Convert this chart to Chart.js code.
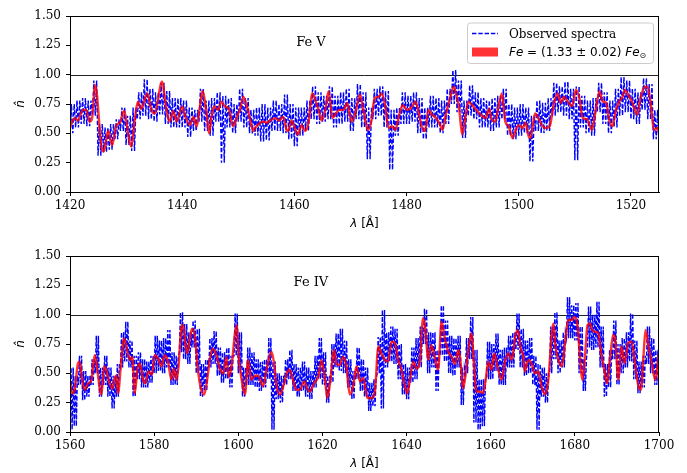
<!DOCTYPE html>
<html>
<head>
<meta charset="utf-8">
<script src="https://cdn.jsdelivr.net/npm/chart.js@4.4.1/dist/chart.umd.min.js"></script>
<style>
  html, body { margin: 0; padding: 0; background: #fff; }
  #wrap { position: relative; width: 687px; height: 473px; }
  canvas { position: absolute; left: 0; }
  #feV { top: 0; }
  #feIV { top: 237px; }
</style>
</head>
<body>
<div id="wrap">
  <canvas id="feV" width="687" height="236"></canvas>
  <canvas id="feIV" width="687" height="236"></canvas>
</div>
<script>
// normalised flux ticks, shared by both panels
const fluxTicks = [0, 0.25, 0.5, 0.75, 1.0, 1.25, 1.5];

// ---- Fe V window (1420-1525 A) ----
const feVTicks = [1420, 1440, 1460, 1480, 1500, 1520];
const feVStart = 1420;
// observed spectrum, [low, high] per 1 A bin from feVStart
const feVObs = [
  [0.50, 0.75], [0.55, 0.78], [0.58, 0.80], [0.56, 0.78], [0.65, 0.95],
  [0.31, 0.58], [0.34, 0.55], [0.36, 0.58], [0.45, 0.62], [0.52, 0.72],
  [0.40, 0.65], [0.35, 0.72], [0.62, 0.85], [0.65, 0.96], [0.62, 0.88],
  [0.60, 0.85], [0.66, 0.93], [0.58, 0.86], [0.55, 0.80], [0.55, 0.80],
  [0.55, 0.78], [0.47, 0.72], [0.52, 0.70], [0.60, 0.88], [0.52, 0.78],
  [0.48, 0.80], [0.60, 0.85], [0.25, 0.82], [0.55, 0.80], [0.50, 0.75],
  [0.60, 0.88], [0.55, 0.80], [0.50, 0.70], [0.48, 0.72], [0.43, 0.75],
  [0.44, 0.72], [0.52, 0.78], [0.52, 0.75], [0.50, 0.83], [0.45, 0.75],
  [0.39, 0.72], [0.48, 0.72], [0.52, 0.78], [0.62, 0.90], [0.58, 0.85],
  [0.60, 0.82], [0.62, 0.90], [0.55, 0.82], [0.58, 0.85], [0.60, 0.88],
  [0.52, 0.80], [0.62, 0.92], [0.55, 0.85], [0.28, 0.72], [0.62, 0.88],
  [0.65, 0.90], [0.55, 0.86], [0.19, 0.70], [0.48, 0.72], [0.58, 0.85],
  [0.58, 0.82], [0.60, 0.85], [0.50, 0.80], [0.45, 0.72], [0.55, 0.82],
  [0.55, 0.80], [0.50, 0.78], [0.58, 0.88], [0.75, 1.04], [0.68, 0.95],
  [0.46, 0.78], [0.65, 0.91], [0.62, 0.85], [0.55, 0.80], [0.55, 0.78],
  [0.52, 0.80], [0.55, 0.82], [0.62, 0.88], [0.48, 0.75], [0.45, 0.72],
  [0.48, 0.75], [0.50, 0.72], [0.26, 0.65], [0.52, 0.78], [0.50, 0.76],
  [0.52, 0.80], [0.65, 0.93], [0.68, 0.90], [0.65, 0.94], [0.62, 0.88],
  [0.27, 0.90], [0.55, 0.82], [0.50, 0.78], [0.48, 0.80], [0.68, 0.93],
  [0.58, 0.85], [0.50, 0.78], [0.55, 0.88], [0.65, 0.98], [0.68, 0.95],
  [0.62, 0.88], [0.58, 0.85], [0.70, 0.97], [0.62, 0.92], [0.45, 0.70],
  [0.48, 0.65]
];
// model with Fe = 1.33 Fe_sun, [wavelength, flux]
const feVModel = [
  [1420.0, 0.545], [1420.8, 0.63], [1421.4, 0.61], [1422.3, 0.70], [1422.9, 0.70],
  [1423.5, 0.60], [1423.9, 0.62], [1424.5, 0.91], [1425.6, 0.39], [1426.0, 0.345],
  [1426.8, 0.52], [1427.5, 0.40], [1428.3, 0.57], [1428.9, 0.59], [1429.6, 0.69],
  [1430.65, 0.42], [1430.95, 0.39], [1431.55, 0.62], [1432.1, 0.77], [1432.7, 0.71],
  [1433.8, 0.84], [1434.5, 0.70], [1435.1, 0.67], [1436.4, 0.94], [1437.2, 0.70],
  [1437.8, 0.60], [1438.4, 0.69], [1439.0, 0.60], [1440.0, 0.73], [1440.65, 0.63],
  [1441.4, 0.57], [1442.0, 0.64], [1442.6, 0.56], [1443.0, 0.67], [1443.6, 0.86],
  [1444.35, 0.67], [1444.8, 0.50], [1445.2, 0.63], [1445.7, 0.73], [1446.4, 0.70],
  [1447.0, 0.77], [1447.6, 0.73], [1448.3, 0.71], [1449.1, 0.56], [1449.9, 0.66],
  [1450.3, 0.70], [1450.9, 0.81], [1451.7, 0.70], [1452.1, 0.62], [1452.7, 0.52],
  [1453.0, 0.545], [1453.9, 0.59], [1454.5, 0.60], [1455.1, 0.59], [1455.7, 0.61],
  [1456.6, 0.63], [1457.2, 0.61], [1458.0, 0.64], [1458.6, 0.53], [1458.9, 0.52],
  [1459.5, 0.61], [1460.0, 0.56], [1460.6, 0.49], [1461.3, 0.57], [1461.9, 0.52],
  [1462.5, 0.59], [1463.2, 0.84], [1463.7, 0.79], [1464.3, 0.70], [1464.9, 0.61],
  [1465.5, 0.70], [1466.1, 0.86], [1466.8, 0.63], [1467.4, 0.67], [1468.0, 0.70],
  [1468.8, 0.70], [1469.4, 0.76], [1470.2, 0.60], [1470.8, 0.66], [1471.7, 0.83],
  [1472.3, 0.70], [1473.1, 0.53], [1473.7, 0.60], [1474.3, 0.80], [1475.0, 0.81],
  [1475.6, 0.84], [1476.2, 0.73], [1476.8, 0.545], [1477.4, 0.56], [1478.0, 0.53],
  [1478.7, 0.66], [1479.3, 0.74], [1480.1, 0.70], [1480.7, 0.71], [1481.6, 0.77],
  [1482.1, 0.69], [1482.7, 0.56], [1483.3, 0.52], [1483.9, 0.70], [1484.5, 0.66],
  [1485.1, 0.64], [1485.8, 0.59], [1486.4, 0.53], [1487.0, 0.66], [1487.8, 0.81],
  [1488.4, 0.90], [1489.0, 0.80], [1489.4, 0.70], [1489.9, 0.49], [1490.4, 0.61],
  [1491.0, 0.77], [1491.7, 0.74], [1492.4, 0.70], [1493.2, 0.66], [1494.1, 0.63],
  [1494.7, 0.71], [1495.1, 0.63], [1495.8, 0.60], [1496.4, 0.73], [1497.0, 0.84],
  [1497.6, 0.60], [1498.2, 0.56], [1498.9, 0.46], [1499.4, 0.52], [1500.0, 0.57],
  [1500.7, 0.545], [1501.2, 0.59], [1501.8, 0.47], [1502.1, 0.46], [1502.9, 0.67],
  [1503.5, 0.63], [1504.1, 0.57], [1504.8, 0.545], [1505.5, 0.56], [1506.3, 0.76],
  [1506.9, 0.84], [1507.5, 0.76], [1508.0, 0.81], [1508.9, 0.76], [1509.5, 0.73],
  [1510.2, 0.87], [1510.8, 0.80], [1511.4, 0.63], [1512.2, 0.62], [1513.0, 0.53],
  [1513.7, 0.69], [1514.4, 0.86], [1515.0, 0.77], [1515.6, 0.76], [1516.1, 0.62],
  [1516.7, 0.56], [1517.3, 0.69], [1517.9, 0.77], [1518.5, 0.81], [1518.9, 0.87],
  [1519.7, 0.81], [1520.2, 0.77], [1521.1, 0.66], [1521.7, 0.80], [1522.3, 0.885],
  [1522.9, 0.90], [1523.5, 0.76], [1524.1, 0.53], [1524.7, 0.545], [1525.1, 0.47]
];

// ---- Fe IV window (1560-1700 A) ----
const feIVTicks = [1560, 1580, 1600, 1620, 1640, 1660, 1680, 1700];
const feIVStart = 1560;
const feIVObs = [
  [0.02, 0.55], [0.05, 0.48], [0.40, 0.65], [0.27, 0.52], [0.30, 0.48],
  [0.40, 0.62], [0.50, 0.82], [0.30, 0.55], [0.40, 0.65], [0.30, 0.55],
  [0.20, 0.48], [0.30, 0.58], [0.55, 0.85], [0.60, 0.94], [0.55, 0.78],
  [0.30, 0.65], [0.45, 0.68], [0.38, 0.62], [0.38, 0.60], [0.42, 0.65],
  [0.50, 0.82], [0.52, 0.78], [0.50, 0.80], [0.55, 0.87], [0.40, 0.68],
  [0.40, 0.65], [0.68, 1.02], [0.62, 0.92], [0.58, 0.85], [0.72, 0.95],
  [0.50, 0.88], [0.30, 0.58], [0.35, 0.62], [0.55, 0.80], [0.58, 0.86],
  [0.48, 0.72], [0.42, 0.68], [0.45, 0.72], [0.38, 0.65], [0.65, 1.01],
  [0.50, 0.85], [0.30, 0.55], [0.40, 0.72], [0.40, 0.68], [0.38, 0.62],
  [0.35, 0.60], [0.38, 0.62], [0.45, 0.80], [0.02, 0.60], [0.28, 0.50],
  [0.25, 0.48], [0.40, 0.62], [0.45, 0.70], [0.35, 0.58], [0.30, 0.55],
  [0.35, 0.60], [0.30, 0.55], [0.28, 0.52], [0.38, 0.65], [0.45, 0.80],
  [0.40, 0.68], [0.25, 0.48], [0.42, 0.75], [0.55, 0.84], [0.52, 0.88],
  [0.50, 0.78], [0.38, 0.62], [0.28, 0.52], [0.45, 0.72], [0.35, 0.62],
  [0.30, 0.55], [0.18, 0.42], [0.22, 0.45], [0.50, 0.81], [0.20, 1.04],
  [0.55, 0.85], [0.60, 0.90], [0.58, 0.88], [0.45, 0.75], [0.32, 0.58],
  [0.28, 0.55], [0.42, 0.72], [0.45, 0.80], [0.55, 0.90], [0.75, 1.05],
  [0.50, 0.85], [0.55, 0.85], [0.35, 0.70], [0.65, 1.08], [0.60, 0.95],
  [0.50, 0.82], [0.48, 0.80], [0.55, 0.82], [0.23, 0.55], [0.50, 0.80],
  [0.62, 0.98], [0.08, 0.70], [0.02, 0.45], [0.05, 0.45], [0.45, 0.77],
  [0.45, 0.75], [0.52, 0.84], [0.40, 0.70], [0.40, 0.72], [0.55, 0.82],
  [0.55, 0.85], [0.70, 1.01], [0.55, 0.88], [0.48, 0.78], [0.50, 0.80],
  [0.40, 0.65], [0.02, 0.58], [0.30, 0.55], [0.25, 0.50], [0.50, 0.90],
  [0.62, 1.02], [0.50, 0.78], [0.55, 0.85], [0.80, 1.15], [0.80, 1.08],
  [0.78, 1.10], [0.50, 0.90], [0.35, 0.62], [0.72, 1.07], [0.70, 1.00],
  [0.72, 1.11], [0.55, 0.90], [0.30, 0.58], [0.38, 0.70], [0.62, 0.95],
  [0.40, 0.75], [0.50, 0.80], [0.55, 0.85], [0.60, 1.01], [0.45, 0.78],
  [0.33, 0.60], [0.38, 0.65], [0.58, 0.90], [0.50, 0.80], [0.40, 0.70],
  [0.45, 0.75]
];
const feIVModel = [
  [1560.0, 0.43], [1560.5, 0.33], [1561.1, 0.36], [1561.9, 0.585], [1562.3, 0.60],
  [1562.9, 0.44], [1563.5, 0.36], [1564.3, 0.415], [1565.1, 0.44], [1565.5, 0.57],
  [1565.9, 0.655], [1566.5, 0.53], [1567.1, 0.36], [1567.5, 0.32], [1568.1, 0.56],
  [1568.6, 0.53], [1569.0, 0.47], [1569.7, 0.39], [1570.2, 0.37], [1570.5, 0.44],
  [1571.0, 0.48], [1571.4, 0.33], [1572.2, 0.615], [1572.8, 0.80], [1573.4, 0.73],
  [1574.2, 0.615], [1574.8, 0.64], [1575.4, 0.33], [1576.0, 0.53], [1576.6, 0.585],
  [1577.4, 0.44], [1577.9, 0.415], [1578.6, 0.515], [1579.5, 0.49], [1580.1, 0.655],
  [1580.9, 0.63], [1581.7, 0.56], [1582.5, 0.655], [1583.3, 0.60], [1584.1, 0.445],
  [1584.7, 0.54], [1585.3, 0.445], [1585.8, 0.56], [1586.5, 0.90], [1586.9, 0.91],
  [1587.4, 0.76], [1587.9, 0.67], [1588.5, 0.80], [1589.0, 0.88], [1589.7, 0.81],
  [1590.4, 0.53], [1591.2, 0.36], [1591.9, 0.32], [1592.7, 0.47], [1593.2, 0.615],
  [1594.0, 0.71], [1594.8, 0.655], [1595.6, 0.54], [1596.4, 0.50], [1597.2, 0.64],
  [1597.7, 0.47], [1598.4, 0.56], [1599.2, 0.84], [1599.6, 0.91], [1600.1, 0.64],
  [1600.8, 0.445], [1601.6, 0.32], [1602.3, 0.615], [1603.1, 0.445], [1603.9, 0.48],
  [1604.7, 0.48], [1605.9, 0.39], [1606.7, 0.53], [1607.9, 0.685], [1608.5, 0.585],
  [1609.1, 0.39], [1609.9, 0.32], [1610.7, 0.39], [1611.5, 0.50], [1612.2, 0.53],
  [1613.0, 0.445], [1613.8, 0.36], [1614.6, 0.36], [1615.7, 0.43], [1616.2, 0.39],
  [1617.0, 0.345], [1618.0, 0.415], [1619.0, 0.47], [1619.8, 0.615], [1620.6, 0.445],
  [1621.2, 0.29], [1621.8, 0.415], [1622.8, 0.70], [1623.3, 0.585], [1624.1, 0.57],
  [1624.9, 0.64], [1625.7, 0.56], [1626.5, 0.32], [1627.3, 0.39], [1628.1, 0.56],
  [1628.9, 0.43], [1629.7, 0.46], [1630.7, 0.29], [1631.7, 0.29], [1632.5, 0.36],
  [1633.3, 0.73], [1634.0, 0.67], [1634.8, 0.615], [1635.6, 0.60], [1636.4, 0.77],
  [1637.2, 0.76], [1638.0, 0.615], [1638.8, 0.53], [1639.6, 0.39], [1640.2, 0.33],
  [1640.8, 0.445], [1641.6, 0.60], [1642.4, 0.54], [1643.2, 0.615], [1643.9, 0.97],
  [1644.5, 0.87], [1645.1, 0.615], [1645.9, 0.74], [1646.7, 0.64], [1647.5, 0.53],
  [1648.3, 0.94], [1649.1, 0.80], [1649.9, 0.685], [1650.7, 0.64], [1651.5, 0.58],
  [1652.3, 0.70], [1652.7, 0.64], [1653.5, 0.375], [1654.3, 0.585], [1655.1, 0.80],
  [1655.5, 0.84], [1655.9, 0.64], [1656.6, 0.345], [1657.4, 0.345], [1658.2, 0.33],
  [1658.8, 0.445], [1659.4, 0.60], [1660.2, 0.53], [1660.8, 0.67], [1661.6, 0.56],
  [1662.6, 0.445], [1663.4, 0.60], [1664.2, 0.67], [1665.0, 0.615], [1665.8, 0.81],
  [1666.4, 0.87], [1667.2, 0.70], [1667.7, 0.655], [1668.1, 0.515], [1668.9, 0.615],
  [1669.7, 0.585], [1670.5, 0.50], [1671.3, 0.515], [1672.1, 0.39], [1672.9, 0.32],
  [1673.7, 0.445], [1674.5, 0.84], [1674.9, 0.925], [1675.4, 0.73], [1676.1, 0.615],
  [1676.9, 0.56], [1677.7, 0.77], [1678.4, 0.955], [1679.2, 0.955], [1680.0, 0.98],
  [1680.7, 0.885], [1681.2, 0.64], [1681.8, 0.445], [1682.4, 0.64], [1683.0, 0.91],
  [1683.6, 0.925], [1684.1, 0.87], [1684.8, 0.855], [1685.6, 0.84], [1686.2, 0.685],
  [1687.0, 0.53], [1687.6, 0.415], [1688.4, 0.64], [1689.1, 0.83], [1689.7, 0.76],
  [1690.3, 0.445], [1691.1, 0.73], [1691.8, 0.585], [1692.7, 0.76], [1693.5, 0.77],
  [1694.3, 0.585], [1695.1, 0.39], [1695.7, 0.36], [1696.3, 0.64], [1696.8, 0.87],
  [1697.5, 0.73], [1698.3, 0.585], [1699.1, 0.445], [1700.0, 0.67]
];

const OBS_BLUE = '#0000ff';
const MODEL_RED = 'rgba(255, 0, 0, 0.8)';
const SERIF = "'DejaVu Serif', serif";
const SANS = "'DejaVu Sans', sans-serif";

Chart.defaults.font.family = SERIF;
Chart.defaults.font.size = 12;
Chart.defaults.color = '#000';

// each 1 A bin swings between its low and high twice
function binPoints(start, bins) {
  const pts = [];
  bins.forEach(([lo, hi], i) => {
    pts.push({ x: start + i, y: lo });
    pts.push({ x: start + i + 0.25, y: hi });
    pts.push({ x: start + i + 0.5, y: lo });
    pts.push({ x: start + i + 0.75, y: hi });
  });
  return pts;
}

// draws a run of [text, font, dy] pieces left to right
function drawRuns(ctx, x, y, runs) {
  runs.forEach(([txt, font, dy]) => {
    ctx.font = font;
    ctx.fillText(txt, x, y + (dy || 0));
    x += ctx.measureText(txt).width;
  });
}

// spines, n=1 level, axis labels, panel name and legend
const decorations = {
  id: 'decorations',
  beforeDatasetsDraw(chart) {
    const { ctx, chartArea: a, scales: { y } } = chart;
    const y1 = Math.round(y.getPixelForValue(1)) + 0.5;
    ctx.save();
    ctx.strokeStyle = '#222';
    ctx.lineWidth = 1;
    ctx.beginPath();
    ctx.moveTo(a.left, y1);
    ctx.lineTo(a.right, y1);
    ctx.stroke();
    ctx.restore();
  },
  afterDraw(chart, args, opts) {
    const { ctx, chartArea: a } = chart;
    ctx.save();
    ctx.strokeStyle = '#000';
    ctx.lineWidth = 1;
    ctx.strokeRect(Math.round(a.left) + 0.5, Math.round(a.top) + 0.5,
      Math.round(a.right - a.left) - 1, Math.round(a.bottom - a.top));

    ctx.fillStyle = '#000';
    // panel name
    ctx.font = '13px ' + SERIF;
    ctx.textAlign = 'center';
    ctx.textBaseline = 'alphabetic';
    ctx.fillText(opts.name, a.left + 0.409 * (a.right - a.left), a.top + 30);

    // x label
    ctx.textAlign = 'left';
    const xl = [['\u03bb', 'oblique 12px ' + SANS], [' [\u00c5]', '12px ' + SANS]];
    let w = 0;
    xl.forEach(([t, f]) => { ctx.font = f; w += ctx.measureText(t).width; });
    drawRuns(ctx, (a.left + a.right) / 2 - w / 2, a.bottom + 35, xl);

    // y label, rotated
    ctx.save();
    ctx.translate(24, (a.top + a.bottom) / 2);
    ctx.rotate(-Math.PI / 2);
    ctx.textAlign = 'center';
    ctx.font = 'oblique 12px ' + SANS;
    ctx.fillText('n\u0302', 0, 0);
    ctx.restore();

    if (opts.legend) {
      const bx = 467, by = 22.5, bw = 186, bh = 40.5;
      ctx.fillStyle = 'rgba(255,255,255,0.8)';
      ctx.strokeStyle = '#cccccc';
      ctx.beginPath();
      ctx.roundRect(bx + 0.5, by + 0.5, bw, bh, 3);
      ctx.fill();
      ctx.stroke();

      ctx.strokeStyle = OBS_BLUE;
      ctx.lineWidth = 1.6;
      ctx.setLineDash([4.4, 1.9]);
      ctx.beginPath();
      ctx.moveTo(472, 33.5);
      ctx.lineTo(498, 33.5);
      ctx.stroke();
      ctx.setLineDash([]);

      ctx.fillStyle = MODEL_RED;
      ctx.fillRect(472, 47.5, 26, 9);

      ctx.fillStyle = '#000';
      ctx.textAlign = 'left';
      ctx.font = '12px ' + SERIF;
      ctx.fillText('Observed spectra', 509, 38);
      drawRuns(ctx, 509, 56, [
        ['Fe', 'oblique 12px ' + SANS],
        [' = (1.33 \u00b1 0.02) ', '12px ' + SANS],
        ['Fe', 'oblique 12px ' + SANS],
        ['\u2299', '8px ' + SANS, 2]
      ]);
    }
    ctx.restore();
  }
};

function spectrumChart(id, cfg) {
  return new Chart(document.getElementById(id), {
    type: 'line',
    data: {
      datasets: [
        {
          label: 'model',
          data: cfg.model.map(([x, y]) => ({ x, y })),
          borderColor: MODEL_RED,
          borderWidth: 2.4,
          pointRadius: 0,
          cubicInterpolationMode: 'monotone',
          order: 0
        },
        {
          label: 'Observed spectra',
          data: binPoints(cfg.start, cfg.obs),
          borderColor: OBS_BLUE,
          borderWidth: 1.4,
          borderDash: [4.4, 1.9],
          pointRadius: 0,
          tension: 0,
          order: 1
        }
      ]
    },
    options: {
      responsive: false,
      animation: false,
      devicePixelRatio: 1,
      events: [],
      layout: { padding: { top: cfg.padTop, right: 28, left: 0, bottom: 0 } },
      plugins: {
        legend: { display: false },
        tooltip: { enabled: false },
        decorations: { name: cfg.name, legend: cfg.legend }
      },
      scales: {
        x: {
          type: 'linear',
          min: cfg.min,
          max: cfg.max,
          afterBuildTicks: s => { s.ticks = cfg.ticks.map(v => ({ value: v })); },
          afterFit: s => { s.height = cfg.axisHeight; },
          ticks: { padding: 3, maxRotation: 0, autoSkip: false, callback: v => String(v) },
          grid: { drawOnChartArea: false, tickLength: 4, color: '#000' },
          border: { color: '#000', width: 1 }
        },
        y: {
          min: 0,
          max: 1.5,
          afterBuildTicks: s => { s.ticks = fluxTicks.map(v => ({ value: v })); },
          afterFit: s => { s.width = 70; },
          ticks: { padding: 5, callback: v => v.toFixed(2) },
          grid: { drawOnChartArea: false, tickLength: 4, color: '#000' },
          border: { color: '#000', width: 1 }
        }
      }
    },
    plugins: [decorations]
  });
}

spectrumChart('feV', {
  name: 'Fe V', legend: true, start: feVStart, obs: feVObs, model: feVModel,
  ticks: feVTicks, min: 1420, max: 1525, padTop: 16, axisHeight: 44
});
spectrumChart('feIV', {
  name: 'Fe IV', legend: false, start: feIVStart, obs: feIVObs, model: feIVModel,
  ticks: feIVTicks, min: 1560, max: 1700, padTop: 19, axisHeight: 41
});
</script>
</body>
</html>
